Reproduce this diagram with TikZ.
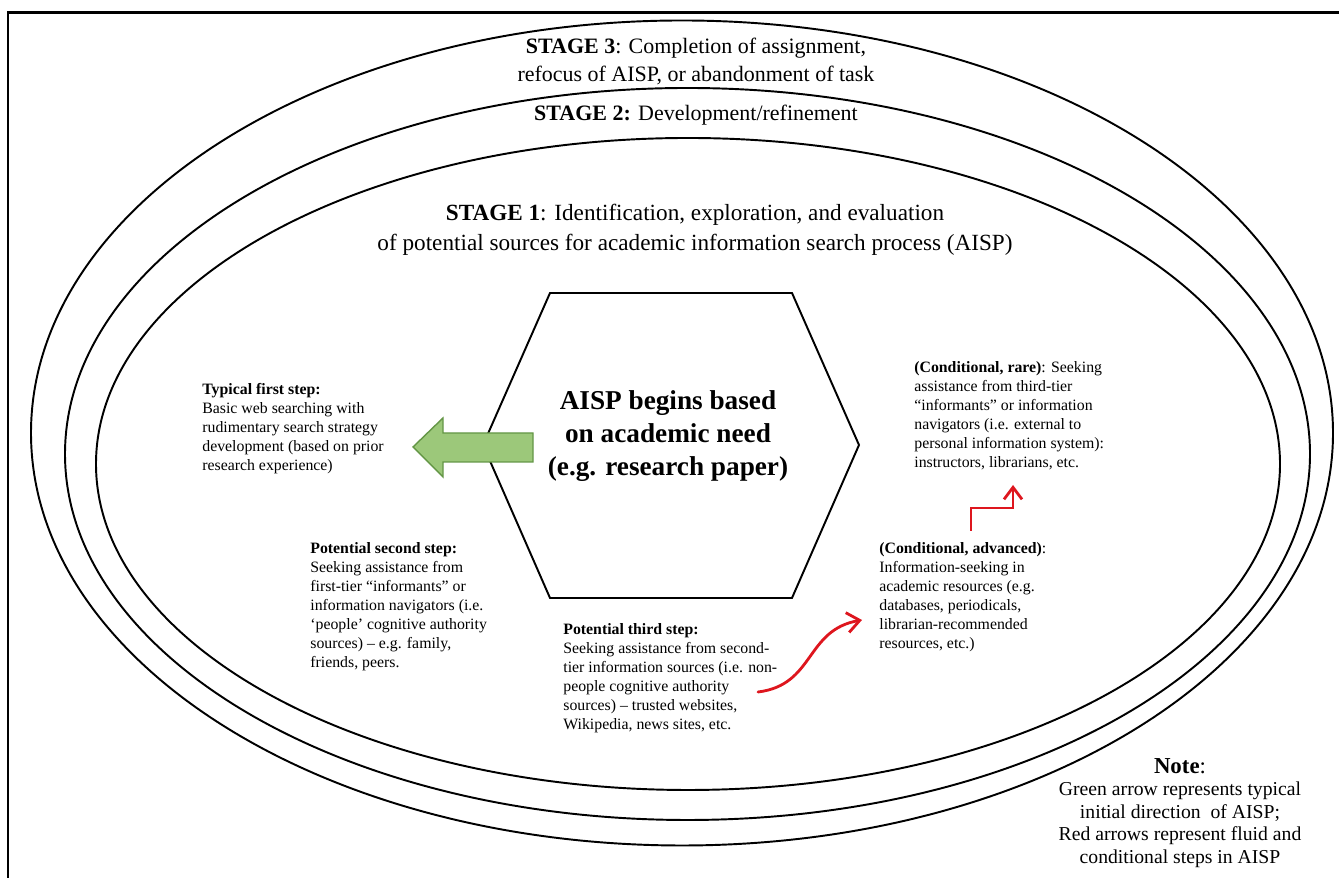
\documentclass[tikz,border=0pt]{standalone}
\usepackage{fontspec}
\setmainfont{Liberation Serif}
\usetikzlibrary{arrows.meta}

\definecolor{arrowgreen}{RGB}{156,200,122}
\definecolor{arrowgreenline}{RGB}{100,150,70}
\definecolor{stepred}{RGB}{222,22,30}

\begin{document}
\begin{tikzpicture}[scale=1.0,>=Latex,
    ring/.style={line width=1.1pt},
    steptext/.style={anchor=north west,inner sep=0pt,align=left,font=\fontsize{9}{10.8}\selectfont},
    stagetext/.style={align=center,inner sep=0pt,font=\fontsize{12.5}{15.4}\selectfont},
    redarrow/.style={stepred,line width=1.6pt,line cap=round}]
    \useasboundingbox (0,0) rectangle (26.78,17.56);
    \draw[line width=1.7pt] (26.78,17.30) -- (0.16,17.30) -- (0.16,0);

    \foreach \cx/\cy/\rx/\ry in {13.64/8.90/13.02/8.25,13.75/8.48/12.45/7.32,13.76/8.28/11.84/6.52}
      \draw[ring] (\cx,\cy) ellipse [x radius=\rx, y radius=\ry];

    \node[stagetext] (stage3) at (13.92,16.33) {\textbf{STAGE 3}: Completion of assignment,\\refocus of AISP, or abandonment of task};
    \node[stagetext] (stage2) at (13.92,15.26) {\textbf{STAGE 2:} Development/refinement};
    \node[stagetext,font=\fontsize{13.2}{17}\selectfont] (stage1) at (13.90,12.96)
      {\textbf{STAGE 1}: Identification, exploration, and evaluation\\of potential sources for academic information search process (AISP)};

    \coordinate (H1) at (11.00,11.70);
    \coordinate (H2) at (15.84,11.70);
    \coordinate (H3) at (17.18,8.66);
    \coordinate (H4) at (15.84,5.60);
    \coordinate (H5) at (11.00,5.60);
    \coordinate (H6) at (9.66,8.66);
    \draw[ring] (H1) -- (H2) -- (H3) -- (H4) -- (H5) -- (H6) -- cycle;
    \node[align=center,font=\fontsize{15.5}{18.8}\selectfont\bfseries] (need) at (13.36,8.84)
      {AISP begins based\\on academic need\\(e.g. research paper)};

    % green arrow
    \filldraw[fill=arrowgreen,draw=arrowgreenline,line width=0.8pt]
      (10.66,8.90) -- (8.86,8.90) -- (8.86,9.20) -- (8.26,8.62) -- (8.86,8.02) -- (8.86,8.32) -- (10.66,8.32) -- cycle;

    \node[steptext] (first) at (4.04,9.90)
      {\textbf{Typical first step:}\\Basic web searching with\\rudimentary search strategy\\development (based on prior\\research experience)};
    \node[steptext] (second) at (6.20,6.72)
      {\textbf{Potential second step:}\\Seeking assistance from\\first-tier “informants” or\\information navigators (i.e.\\‘people’ cognitive authority\\sources) – e.g. family,\\friends, peers.};
    \node[steptext] (third) at (11.26,5.10)
      {\textbf{Potential third step:}\\Seeking assistance from second-\\tier information sources (i.e. non-\\people cognitive authority\\sources) – trusted websites,\\Wikipedia, news sites, etc.};
    \node[steptext] (advanced) at (17.58,6.72)
      {\textbf{(Conditional, advanced)}:\\Information-seeking in\\academic resources (e.g.\\databases, periodicals,\\librarian-recommended\\resources, etc.)};
    \node[steptext] (rare) at (18.28,10.34)
      {\textbf{(Conditional, rare)}: Seeking\\assistance from third-tier\\“informants” or information\\navigators (i.e. external to\\personal information system):\\instructors, librarians, etc.};

    \node[align=center,inner sep=0pt,font=\fontsize{11.2}{12.8}\selectfont] (note) at (23.60,1.30)
      {{\fontsize{13}{14}\selectfont\textbf{Note}:}\\Green arrow represents typical\\initial direction\ \ of AISP;\\Red arrows represent fluid and\\conditional steps in AISP};

    % red arrows
    \coordinate (r1) at (15.16,3.72);
    \coordinate (r2) at (17.24,5.16);
    \draw[redarrow,-{Straight Barb[length=2.5mm,width=4mm]}] (r1) .. controls (16.30,3.86) and (16.10,4.96) .. (r2);
    \coordinate (e1) at (19.42,6.94);
    \coordinate (e2) at (20.26,7.86);
    \draw[redarrow,line cap=butt,-{Straight Barb[length=2.4mm,width=3.6mm]}] (e1) |- (20.26,7.40) -- (e2);
\end{tikzpicture}
\end{document}
